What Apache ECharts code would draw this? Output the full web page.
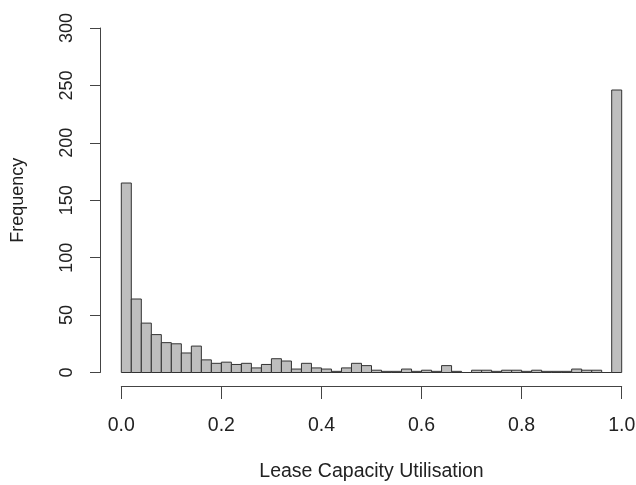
<!DOCTYPE html>
<html>
<head>
<meta charset="utf-8">
<script src="https://cdn.jsdelivr.net/npm/echarts@6/dist/echarts.min.js"></script>
<style>
  html, body { margin: 0; padding: 0; background: #fff; }
  #chart { width: 636px; height: 485px; }
</style>
</head>
<body>
<div id="chart"></div>
<script>
// Histogram of lease capacity utilisation, 50 bins of width 0.02 over [0, 1]
const binWidth = 0.02;
const counts = [
  165, 64, 43, 33, 26, 25, 17, 23, 11, 8,
  9, 7, 8, 4, 7, 12, 10, 3, 8, 4,
  3, 1, 4, 8, 6, 2, 1, 1, 3, 1,
  2, 1, 6, 1, 0, 2, 2, 1, 2, 2,
  1, 2, 1, 1, 1, 3, 2, 2, 0, 246
];
const xTicks = [0, 0.2, 0.4, 0.6, 0.8, 1.0];
const yTicks = [0, 50, 100, 150, 200, 250, 300];

// [binStart, binEnd, count]
const bins = counts.map((c, i) => [i * binWidth, (i + 1) * binWidth, c]);

const FONT = "'Liberation Sans', Arial, sans-serif";
const TEXT = '#222';
const AXIS = '#444';

const chart = echarts.init(document.getElementById('chart'), null, { renderer: 'canvas' });

chart.setOption({
  animation: false,
  backgroundColor: '#fff',
  grid: {
    left: 121.3, right: 14.3, top: 28, bottom: 112.5,
    containLabel: false,
    outerBoundsMode: 'none'
  },
  xAxis: {
    type: 'value',
    min: xTicks[0],
    max: xTicks[xTicks.length - 1],
    interval: 0.2,
    offset: 13.5,
    name: 'Lease Capacity Utilisation',
    nameLocation: 'middle',
    nameGap: 76,
    nameTextStyle: { fontFamily: FONT, fontSize: 19.5, color: TEXT },
    axisLine: { show: true, onZero: false, lineStyle: { color: AXIS, width: 1 } },
    axisTick: { show: true, inside: false, length: 13, lineStyle: { color: AXIS, width: 1 } },
    axisLabel: {
      fontFamily: FONT, fontSize: 19.5, color: TEXT, margin: 30,
      formatter: v => v.toFixed(1)
    },
    splitLine: { show: false }
  },
  yAxis: {
    type: 'value',
    min: yTicks[0],
    max: yTicks[yTicks.length - 1],
    interval: 50,
    offset: 21.3,
    name: 'Frequency',
    nameLocation: 'middle',
    nameRotate: 90,
    nameGap: 73,
    nameTextStyle: { fontFamily: FONT, fontSize: 18, color: TEXT },
    axisLine: { show: true, onZero: false, lineStyle: { color: AXIS, width: 1 } },
    axisTick: { show: true, inside: false, length: 10, lineStyle: { color: AXIS, width: 1 } },
    axisLabel: {
      fontFamily: FONT, fontSize: 18, color: TEXT, margin: 24, rotate: 90
    },
    splitLine: { show: false }
  },
  series: [{
    type: 'custom',
    data: bins,
    encode: { x: [0, 1], y: 2 },
    renderItem: function (params, api) {
      const top = api.coord([api.value(0), api.value(2)]);
      const base = api.coord([api.value(1), 0]);
      return {
        type: 'rect',
        shape: { x: top[0], y: top[1], width: base[0] - top[0], height: base[1] - top[1] },
        style: { fill: '#bebebe', stroke: '#333', lineWidth: 1 }
      };
    }
  }]
});
</script>
</body>
</html>
